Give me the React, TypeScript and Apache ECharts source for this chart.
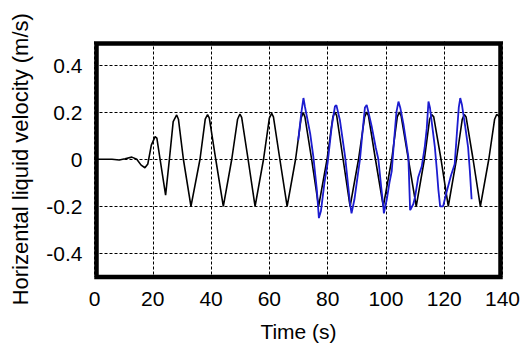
import React, { useEffect, useRef } from "react";
import * as echarts from "echarts";

// Simulated horizontal liquid velocity (black)
const simTime = [
  0, 6, 8.5, 10.5, 12.8, 14.5, 16.0, 17.3, 18.3, 19.5, 20.8, 21.4, 22.5, 24.4,
  25.7, 27.0, 28.2, 28.8, 30.5, 33.1, 36.2, 38.0, 38.8, 39.4, 41.6, 44.2,
  47.1, 49.1, 49.9, 50.5, 52.7, 55.1, 58.0, 60.0, 60.8, 61.4, 63.6, 66.1,
  69.0, 70.9, 71.6, 72.2, 74.5, 76.9, 79.8, 81.8, 82.5, 83.1, 85.3, 87.7,
  90.6, 92.7, 93.4, 94.0, 96.4, 99.1, 102.0, 103.9, 104.6, 105.2, 107.7, 110.4,
  113.2, 115.0, 115.7, 116.4, 118.9, 121.4, 124.2, 126.2, 126.9, 127.5, 129.9, 132.4,
  135.3, 137.3, 138.0, 138.6, 140,
];
const simVelocity = [
  0, 0, -0.003, 0.002, 0.009, 0.0, -0.025, -0.036, -0.02, 0.06, 0.096, 0.09, 0.0, -0.152,
  0.0, 0.16, 0.188, 0.17, 0.0, -0.2, 0.0, 0.17, 0.19, 0.175, 0.0, -0.2,
  0.0, 0.17, 0.192, 0.178, 0.0, -0.2, 0.0, 0.175, 0.195, 0.18, 0.0, -0.2,
  0.0, 0.175, 0.198, 0.18, 0.0, -0.2, 0.0, 0.18, 0.2, 0.185, 0.0, -0.2,
  0.0, 0.18, 0.2, 0.185, 0.0, -0.2, 0.0, 0.18, 0.2, 0.185, 0.0, -0.2,
  0.0, 0.17, 0.19, 0.18, 0.0, -0.2, 0.0, 0.17, 0.19, 0.18, 0.0, -0.2,
  0.0, 0.17, 0.19, 0.185, 0.16,
];

// Measured horizontal liquid velocity (blue)
const expTime = [
  69.9, 71.0, 71.7, 72.2, 74.0, 75.1, 76.3, 77.0, 77.7, 78.9, 80.0, 81.4, 82.5, 83.0,
  84.2, 86.0, 87.7, 88.2, 89.2, 90.2, 91.1, 92.0, 92.8, 93.4, 94.0, 95.1, 96.5, 97.4,
  98.4, 99.1, 99.3, 100.3, 101.2, 102.0, 102.8, 103.6, 104.3, 104.9, 106.0, 107.7,
  108.3, 108.6, 109.4, 110.0, 111.1, 112.3, 113.3, 114.0, 114.6, 115.1, 116.0, 116.8,
  117.5, 118.0, 118.6, 119.6, 120.8, 122.3, 123.6, 124.4, 125.0, 125.5, 126.1, 127.2,
  128.2, 128.8, 129.4,
];
const expVelocity = [
  0.08, 0.2, 0.26, 0.224, 0.11, 0.01, -0.13, -0.25, -0.22, -0.1, -0.015, 0.14, 0.224, 0.23,
  0.167, 0.01, -0.19, -0.23, -0.17, -0.08, 0.0, 0.12, 0.22, 0.23, 0.2, 0.14, 0.05, 0.0,
  -0.12, -0.2, -0.23, -0.17, -0.1, -0.05, 0.08, 0.2, 0.245, 0.22, 0.15, 0.01,
  -0.216, -0.21, -0.19, -0.16, -0.075, -0.03, 0.05, 0.13, 0.245, 0.22, 0.13, 0.05,
  -0.05, -0.13, -0.2, -0.2, -0.14, -0.07, -0.02, 0.12, 0.22, 0.26, 0.23, 0.14,
  0.05, -0.05, -0.17,
];

const xTicks = [0, 20, 40, 60, 80, 100, 120, 140];
const yGridValues = [-0.4, -0.2, 0, 0.2, 0.4];

const FONT = "'Liberation Sans', Arial, Helvetica, sans-serif";

export default function App() {
  const ref = useRef<HTMLDivElement>(null);

  useEffect(() => {
    if (!ref.current) return;
    const chart = echarts.init(ref.current, undefined, { renderer: "svg" });
    const sim = simTime.map((t, i) => [t, simVelocity[i]]);
    const exp = expTime.map((t, i) => [t, expVelocity[i]]);

    chart.setOption({
      animation: false,
      backgroundColor: "#fff",
      grid: { left: 94.5, right: 29.5, top: 41.5, bottom: 76 },
      xAxis: {
        type: "value",
        min: xTicks[0],
        max: xTicks[xTicks.length - 1],
        interval: 20,
        name: "Time (s)",
        nameLocation: "middle",
        nameGap: 44,
        nameTextStyle: { fontFamily: FONT, fontSize: 21, color: "#000" },
        axisLine: { show: false },
        axisTick: { show: false },
        axisLabel: { fontFamily: FONT, fontSize: 21, color: "#000", margin: 11 },
        splitLine: { show: true, lineStyle: { color: "#000", width: 1, type: [3, 2] } },
      },
      yAxis: {
        type: "value",
        min: -0.5,
        max: 0.5,
        interval: 0.1,
        name: "Horizental liquid velocity (m/s)",
        nameLocation: "middle",
        nameGap: 63,
        nameTextStyle: { fontFamily: FONT, fontSize: 22, color: "#000" },
        axisLine: { show: false },
        axisTick: { show: false },
        splitLine: { show: false },
        axisLabel: {
          fontFamily: FONT,
          fontSize: 21,
          color: "#000",
          margin: 12,
          formatter: (v: number) => {
            const k = Math.round(v * 10);
            if (k === 0) return "0";
            if (Math.abs(k) % 2 === 1) return "";
            return (k / 10).toFixed(1);
          },
        },
      },
      series: [
        {
          type: "line",
          data: sim,
          showSymbol: false,
          symbol: "none",
          lineStyle: { color: "#000", width: 1.6 },
          z: 3,
          markLine: {
            silent: true,
            symbol: "none",
            label: { show: false },
            lineStyle: { color: "#000", width: 1, type: [3, 2] },
            data: yGridValues.map((y) => ({ yAxis: y })),
            z: 1,
          },
        },
        {
          type: "line",
          data: exp,
          showSymbol: false,
          symbol: "none",
          lineStyle: { color: "#1c1cd0", width: 1.8 },
          z: 4,
        },
      ],
      graphic: [
        {
          type: "rect",
          z: 100,
          silent: true,
          shape: { x: 96.5, y: 43.5, width: 404, height: 233.5 },
          style: { fill: "none", stroke: "#000", lineWidth: 4.5 },
        },
      ],
    });
    return () => chart.dispose();
  }, []);

  return (
    <div
      ref={ref}
      style={{ position: "fixed", left: 0, top: 0, width: 532, height: 353 }}
    />
  );
}
